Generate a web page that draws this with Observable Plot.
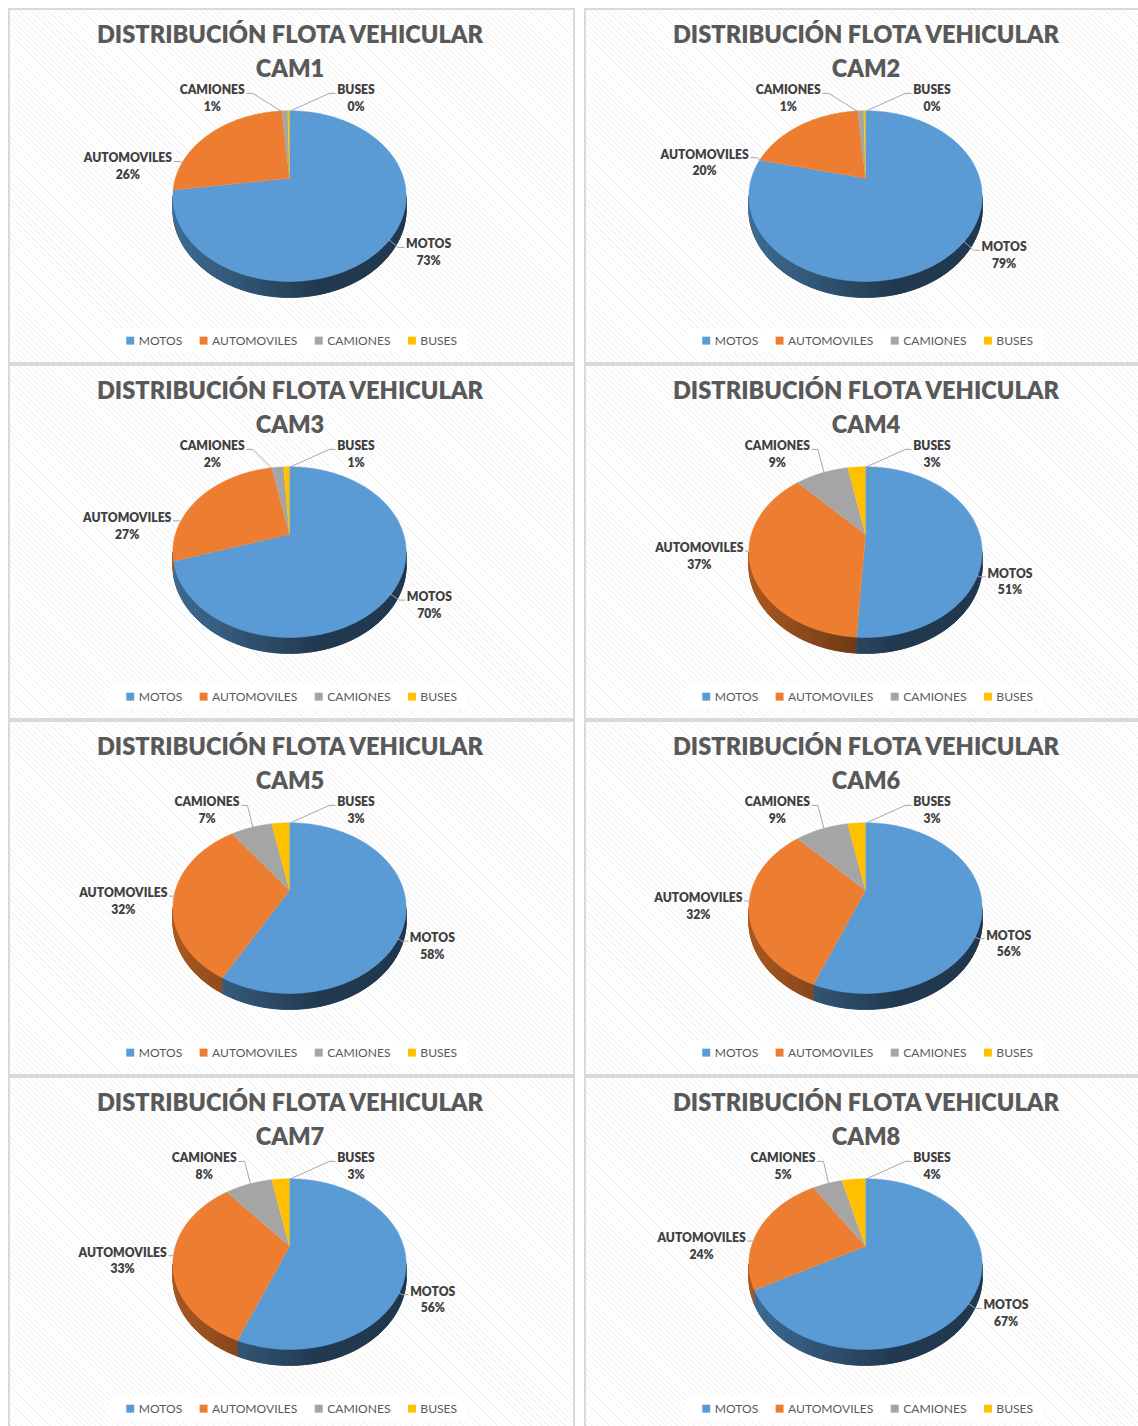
<!DOCTYPE html>
<html>
<head>
<meta charset="utf-8">
<script src="https://cdn.jsdelivr.net/npm/d3@7"></script>
<script src="https://cdn.jsdelivr.net/npm/@observablehq/plot@0.6"></script>
<style>
html, body { margin: 0; padding: 0; background: #fff; overflow: hidden; width: 1138px; height: 1426px; }
#grid { position: relative; width: 1138px; height: 1426px; overflow: hidden; }
.panel { position: absolute; width: 567px; height: 356px; box-sizing: border-box; border: 2px solid #d9d9d9;
  background: repeating-linear-gradient(45deg, #ffffff 0px, #ffffff 3px, #f4f4f4 3px, #f4f4f4 4px); }
.panel svg { position: absolute; left: -2px; top: -2px; }
</style>
</head>
<body>
<div id="grid"></div>
<script>
// ---------------- DATA ----------------
const cameras = ["CAM1", "CAM2", "CAM3", "CAM4", "CAM5", "CAM6", "CAM7", "CAM8"];
const categories = ["MOTOS", "AUTOMOVILES", "CAMIONES", "BUSES"];
const categoryColors = ["#5b9bd5", "#ed7d31", "#a5a5a5", "#ffc000"];
const motos       = [73, 79, 70, 51, 58, 56, 56, 67];
const automoviles = [26, 20, 27, 37, 32, 32, 33, 24];
const camiones    = [1, 1, 2, 9, 7, 9, 8, 5];
const buses       = [0.3, 0.3, 1, 3, 3, 3, 3, 4];
const titleText = "DISTRIBUCIÓN FLOTA VEHICULAR";
const series = [motos, automoviles, camiones, buses];

// ---------------- LAYOUT / STYLE ----------------
const FONT = "Lato";
const BOLD = 800;
const W = 567, H = 356;
const K = 0.209, B = 82.2, C = 114.9, DEPTH = 16;
const CX = 283, CY = 171;

const ctx = document.createElement("canvas").getContext("2d");
function tw(text, font) { ctx.font = font; return ctx.measureText(text).width; }
const titleSize = 26 * 391 / tw(titleText, `${BOLD} 26px ${FONT}`);
const labelSize = 13 * 89 / tw("AUTOMOVILES", `${BOLD} 13px ${FONT}`);
const legendSize = 13 * 86 / tw("AUTOMOVILES", `13px ${FONT}`);
const labelFont = `${BOLD} ${labelSize}px ${FONT}`;
const legendFont = `${legendSize}px ${FONT}`;

function proj(theta, r, cx, cy) {
  const u = r * Math.sin(theta), v = r * Math.cos(theta);
  const w = 1 + K * v;
  return [cx + C * u / w, cy - B * v / w, w];
}
function depthAt(w) { return DEPTH * (1 - K) / w; }
function shade(hex, f) {
  const c = d3.rgb(hex);
  return d3.rgb(c.r * f, c.g * f, c.b * f).formatHex();
}
function wallFactor(x, cx) {
  const tx = (x - (cx - 117.5)) / 235;
  return 0.72 - 0.35 * Math.min(1, Math.max(0, tx) * 1.6);
}

const thetaR = Math.acos(-K), thetaL = 2 * Math.PI - thetaR;

function buildPanel(pi) {
  const cx = CX, cy = CY;
  const vals = series.map(s => s[pi]);
  const total = d3.sum(vals);
  let acc = 0;
  const slices = vals.map((v, i) => {
    const a0 = acc / total * 2 * Math.PI;
    acc += v;
    const a1 = acc / total * 2 * Math.PI;
    return {i, name: categories[i], value: v, frac: v / total, a0, a1, color: categoryColors[i]};
  });

  // walls: solid underlay per slice + shaded strips
  const wallBase = [], wall = [];
  slices.forEach(s => {
    const lo = Math.max(s.a0, thetaR), hi = Math.min(s.a1, thetaL);
    if (hi <= lo) return;
    const n = Math.max(1, Math.ceil((hi - lo) / (Math.PI / 180)));
    const top = [], bot = [];
    for (let j = 0; j <= n; j++) {
      const t = lo + (hi - lo) * j / n;
      const p = proj(t, 1, cx, cy);
      top.push([p[0], p[1]]);
      bot.push([p[0], p[1] + depthAt(p[2])]);
    }
    const midX = proj((lo + hi) / 2, 1, cx, cy)[0];
    const baseCol = shade(s.color, wallFactor(midX, cx));
    top.concat(bot.slice().reverse()).forEach(p => wallBase.push({id: `b${s.i}`, color: baseCol, x: p[0], y: p[1]}));
    for (let j = 0; j < n; j++) {
      const col = shade(s.color, wallFactor((top[j][0] + top[j + 1][0]) / 2, cx));
      const id = `w${s.i}-${j}`;
      [top[j], top[j + 1], bot[j + 1], bot[j]].forEach(p => wall.push({id, color: col, x: p[0], y: p[1]}));
    }
  });

  // top faces
  const face = [];
  slices.forEach(s => {
    const id = `f${s.i}`;
    face.push({id, color: s.color, x: cx, y: cy});
    const n = Math.max(2, Math.ceil((s.a1 - s.a0) / (Math.PI / 360)));
    for (let j = 0; j <= n; j++) {
      const t = s.a0 + (s.a1 - s.a0) * j / n;
      const p = proj(t, 1, cx, cy);
      face.push({id, color: s.color, x: p[0], y: p[1]});
    }
  });

  // labels
  const labels = [], leaders = [];
  slices.forEach((s, i) => {
    const m = (s.a0 + s.a1) / 2;
    const pct = `${Math.round(s.value)}%`;
    const hw = Math.max(tw(s.name, labelFont), tw(pct, labelFont)) / 2;
    const A = proj(m, 1, cx, cy);
    const isTop = Math.cos(m) > 0.6 && s.frac < 0.15;
    let side, xc, yc;
    if (isTop) {
      side = (i === slices.length - 1 || Math.sin(m) > 0) ? 1 : -1;
      yc = cy - B / (1 + K) - 12;
      if (side < 0) xc = Math.min(A[0] - 12, cx - 45) - hw;
      else xc = Math.max(A[0] + 14, cx + 48) + hw;
    } else {
      side = Math.sin(m) >= 0 ? 1 : -1;
      const Y = A[1] - cy;
      yc = cy + Math.max(-45, Math.min(78, 0.45 * Y + (side > 0 ? 47 : 9)));
      const edge = (side > 0 ? 129 : 124) - 0.2 * Math.abs(yc - cy - 17);
      xc = cx + side * (edge + hw);
    }
    const nameY = yc - 8.5, pctY = yc + 8.5;
    labels.push({x: xc, y: nameY, text: s.name});
    labels.push({x: xc, y: pctY, text: pct});
    const p0 = [side < 0 ? xc + hw + 2 : xc - hw - 2, nameY + 3];
    const p1 = [p0[0] - side * 6, p0[1]];
    let best = null, bd = Infinity;
    const n = Math.max(2, Math.ceil((s.a1 - s.a0) / (Math.PI / 360)));
    for (let j = 0; j <= n; j++) {
      const t = s.a0 + (s.a1 - s.a0) * j / n;
      const p = proj(t, 0.99, cx, cy);
      const d = Math.hypot(p[0] - p1[0], p[1] - p1[1]);
      if (d < bd) { bd = d; best = p; }
    }
    const id = `l${i}`;
    leaders.push({id, x: p0[0], y: p0[1]});
    leaders.push({id, x: p1[0], y: p1[1]});
    leaders.push({id, x: best[0], y: best[1]});
  });

  // legend
  const legY = 335;
  const items = categories.map((c, i) => ({name: c, color: categoryColors[i], w: tw(c, legendFont)}));
  const gap = 18;
  const totalW = d3.sum(items, d => 12 + d.w) + gap * (items.length - 1);
  let lx = W / 2 + 2 - totalW / 2;
  const legStart = lx;
  items.forEach(d => { d.sx = lx; d.tx = lx + 12; lx += 12 + d.w + gap; });
  const legEnd = lx - gap;
  const legendBg = [{x1: legStart - 15, x2: legEnd + 10, y1: legY - 12, y2: legY + 12}];

  const titles = [
    {x: W / 2, y: 27.5, text: titleText},
    {x: W / 2, y: 61.5, text: cameras[pi]}
  ];

  return Plot.plot({
    width: W, height: H, margin: 0,
    x: {domain: [0, W], range: [0, W], axis: null},
    y: {domain: [0, H], range: [0, H], axis: null},
    color: {type: "identity"},
    style: {background: "transparent", overflow: "visible"},
    marks: [
      Plot.rect(legendBg, {x1: "x1", x2: "x2", y1: "y1", y2: "y2", fill: "white"}),
      Plot.line(wallBase, {x: "x", y: "y", z: "id", fill: "color", stroke: "color", strokeWidth: 0.8}),
      Plot.line(wall, {x: "x", y: "y", z: "id", fill: "color", stroke: "color", strokeWidth: 0.6}),
      Plot.line(face, {x: "x", y: "y", z: "id", fill: "color", stroke: "color", strokeWidth: 0.5}),
      Plot.line(leaders, {x: "x", y: "y", z: "id", stroke: "#a6a6a6", strokeWidth: 1}),
      Plot.text(labels, {x: "x", y: "y", text: "text", fill: "#404040", fontWeight: BOLD,
        fontSize: labelSize, fontFamily: FONT}),
      Plot.text(titles, {x: "x", y: "y", text: "text", fill: "#595959", fontWeight: BOLD,
        fontSize: titleSize, fontFamily: FONT}),
      Plot.rect(items, {x1: "sx", x2: d => d.sx + 8, y1: legY - 4, y2: legY + 4, fill: "color"}),
      Plot.text(items, {x: "tx", y: legY, text: "name", textAnchor: "start", fill: "#595959",
        fontSize: legendSize, fontFamily: FONT})
    ]
  });
}

const grid = document.getElementById("grid");
cameras.forEach((cam, pi) => {
  const col = pi % 2, row = Math.floor(pi / 2);
  const div = document.createElement("div");
  div.className = "panel";
  div.style.left = (col === 0 ? 8 : 584) + "px";
  div.style.top = (8 + row * 356) + "px";
  div.appendChild(buildPanel(pi));
  grid.appendChild(div);
});
</script>
</body>
</html>
